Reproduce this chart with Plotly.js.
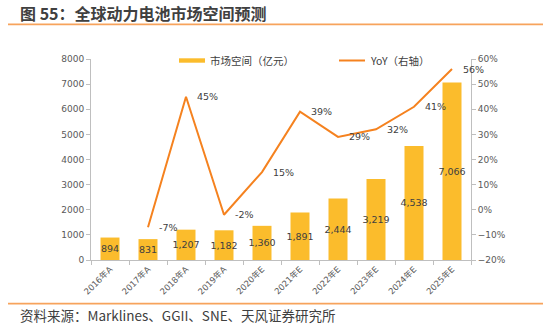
<!DOCTYPE html>
<html><head><meta charset="utf-8">
<script src="https://cdn.plot.ly/plotly-3.0.1.min.js"></script>
<style>html,body{margin:0;padding:0;background:#fff;}#c{width:551px;height:327px;}</style>
</head><body><div id="c"></div>
<script>
const categories = ['2016年A','2017年A','2018年A','2019年A','2020年E','2021年E','2022年E','2023年E','2024年E','2025年E'];
const marketSize = [894, 831, 1207, 1182, 1360, 1891, 2444, 3219, 4538, 7066];
const yoyCategories = ['2017年A','2018年A','2019年A','2020年E','2021年E','2022年E','2023年E','2024年E','2025年E'];
const yoy = [-7, 45, -2, 15, 39, 29, 32, 41, 56];
const seriesNames = ['市场空间（亿元）', 'YoY（右轴）'];
const titleText = '图 55：全球动力电池市场空间预测';
const sourceText = '资料来源：Marklines、GGII、SNE、天风证券研究所';

const FONT = 'DejaVu Sans, Noto Sans CJK SC, sans-serif';
const CJK = 'Noto Sans CJK SC, sans-serif';
const BAR = '#FBBC2C';
const LINE = '#F5821F';
const RULE = '#F7A35C';

const traces = [
  {type:'bar', name:seriesNames[0], x:categories, y:marketSize,
   marker:{color:BAR}, width:0.5, showlegend:false,
   text:marketSize.map(v=>v.toLocaleString('en-US')),
   textposition:'inside', insidetextanchor:'middle', constraintext:'none', textangle:0,
   textfont:{family:FONT, size:9.5, color:'#404040'}, hoverinfo:'skip'},
  {type:'scatter', mode:'lines', name:seriesNames[1], x:yoyCategories, y:yoy, yaxis:'y2',
   line:{color:LINE, width:2}, hoverinfo:'skip', showlegend:false}
];

const W = 551, H = 327;
const plotW = W-91-80, plotH = H-59-67;
const px = v => (v-91)/plotW;
const py = v => (260-v)/plotH;

const annotations = yoyCategories.map((c,i)=>({
  x:c, y:yoy[i], xref:'x', yref:'y2', text:yoy[i]+'%', showarrow:false,
  xanchor:'left', yanchor:'middle', xshift:9,
  font:{family:FONT, size:9.5, color:'#404040'}
}));
annotations.push({xref:'paper', yref:'paper', x:px(18), y:py(315), xanchor:'left', yanchor:'middle', align:'left',
  text:sourceText, showarrow:false, font:{family:CJK, size:13.5, color:'#404040'}});
annotations.push({xref:'paper', yref:'paper', x:px(208), y:py(60.5), xanchor:'left', yanchor:'middle', align:'left',
  text:seriesNames[0], showarrow:false, font:{family:CJK, size:10.5, color:'#404040'}});
annotations.push({xref:'paper', yref:'paper', x:px(368), y:py(60.5), xanchor:'left', yanchor:'middle', align:'left',
  text:seriesNames[1], showarrow:false, font:{family:CJK, size:10.5, color:'#404040'}});

const layout = {
  width:W, height:H,
  margin:{l:91, r:80, t:59, b:67},
  paper_bgcolor:'#fff', plot_bgcolor:'#fff',
  showlegend:false,
  title:{text:'<b>'+titleText+'</b>', xref:'container', yref:'container', x:20/W, xanchor:'left',
    y:1-14/H, yanchor:'middle', font:{family:CJK, size:16, color:'#404040'}},
  xaxis:{type:'category', range:[-0.5,9.5], showline:true, linecolor:'#BFBFBF', linewidth:1,
    ticks:'outside', ticklen:4, tickcolor:'#BFBFBF', tickson:'boundaries',
    tickangle:-45, tickfont:{family:FONT, size:8.5, color:'#595959'}, showgrid:false, zeroline:false, fixedrange:true},
  yaxis:{range:[0,8000], dtick:1000, showline:true, linecolor:'#BFBFBF', linewidth:1,
    ticks:'outside', ticklen:4, tickcolor:'#BFBFBF', showgrid:false, zeroline:false,
    tickfont:{family:FONT, size:9, color:'#595959'}},
  yaxis2:{overlaying:'y', side:'right', range:[-20,60], dtick:10, ticksuffix:'%',
    showline:true, linecolor:'#BFBFBF', linewidth:1, ticks:'outside', ticklen:4, tickcolor:'#BFBFBF',
    showgrid:false, zeroline:false, tickfont:{family:FONT, size:9, color:'#595959'}},
  shapes:[
    {type:'rect', xref:'paper', yref:'paper', layer:'above', x0:px(8), x1:px(543), y0:py(23.5), y1:py(25.3), fillcolor:RULE, line:{width:0}},
    {type:'rect', xref:'paper', yref:'paper', layer:'above', x0:px(8), x1:px(543), y0:py(302.8), y1:py(304.5), fillcolor:RULE, line:{width:0}},
    {type:'rect', xref:'paper', yref:'paper', x0:px(179), x1:px(205), y0:py(58.3), y1:py(62.7), fillcolor:BAR, line:{width:0}},
    {type:'line', xref:'paper', yref:'paper', x0:px(339), x1:px(365), y0:py(60.5), y1:py(60.5), line:{color:LINE, width:2}}
  ],
  annotations:annotations
};
Plotly.newPlot('c', traces, layout, {staticPlot:true});
</script></body></html>
